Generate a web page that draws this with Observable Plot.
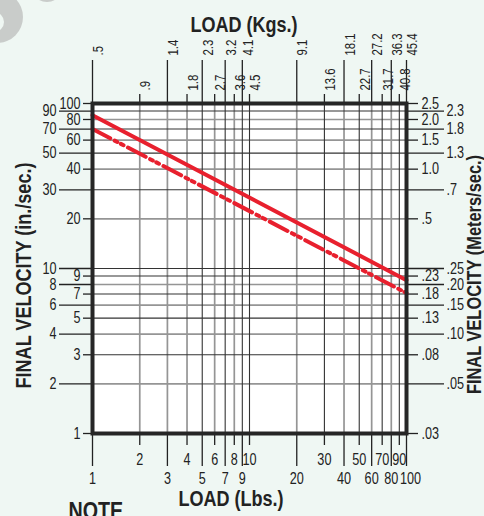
<!DOCTYPE html>
<html><head><meta charset="utf-8">
<script src="https://cdn.jsdelivr.net/npm/d3@7"></script>
<script src="https://cdn.jsdelivr.net/npm/@observablehq/plot@0.6"></script>
<style>
html,body{margin:0;padding:0;background:#eff7f3;overflow:hidden}
#wrap{position:relative;width:484px;height:516px;overflow:hidden}
.blob{position:absolute;border-radius:50%}
</style></head><body><div id="wrap">
<div class="blob" style="left:-29px;top:-9px;width:52px;height:52px;background:#c9ccca"></div>
<div class="blob" style="left:-16px;top:12px;width:20px;height:20px;background:#eff7f3"></div>
<div class="blob" style="left:31px;top:-30px;width:32px;height:32px;background:#c9ccca"></div>
<div id="chart" style="position:absolute;left:0;top:0"></div>
</div>
<script>
// ---- data ----
const loadLbs = [1,2,3,4,5,6,7,8,9,10,20,30,40,50,60,70,80,90,100];
const loadKgLabels = [".5",".9","1.4","1.8","2.3","2.7","3.2","3.6","4.1","4.5","9.1","13.6","18.1","22.7","27.2","31.7","36.3","40.8","45.4"];
const velInSec = [1,2,3,4,5,6,7,8,9,10,20,30,40,50,60,70,80,90,100];
const velMSecLabels = [".03",".05",".08",".10",".13",".15",".18",".20",".23",".25",".5",".7","1.0","1.3","1.5","1.8","2.0","2.3","2.5"];
const lineLoads = [1, 100];
const solidVel = [85, 8.5];
const dashVel = [70, 7.1];

// ---- build ----
const F = '"Liberation Sans",Arial,sans-serif';
const kg = new Map(loadLbs.map((d,i)=>[d, loadKgLabels[i]]));
const ms = new Map(velInSec.map((d,i)=>[d, velMSecLabels[i]]));
const xFar = loadLbs.filter((d,i)=>i%2===0), xNear = loadLbs.filter((d,i)=>i%2===1);
const yNear = velInSec.filter((d,i)=>i%2===0), yFar = velInSec.filter((d,i)=>i%2===1);
const xFarLast = xFar.slice(-1), xFarRest = xFar.slice(0, -1);
const mant = d => Math.round(d / Math.pow(10, Math.floor(Math.log10(d) + 1e-9)));
const darkY = d => mant(d) % 2 === 1;
const darkX = d => mant(d) % 2 === 1 && d > 3;
const solid = lineLoads.map((l,i)=>({load:l, vel:solidVel[i]}));
const dashed = lineLoads.map((l,i)=>({load:l, vel:dashVel[i]}));
const red = "#e8202e";
const ink = "#222";
const blank = () => "";
const T = {fontSize: 16, className: "tk"};

const chart = Plot.plot({
  width: 484, height: 516,
  marginLeft: 92, marginRight: 78, marginTop: 103, marginBottom: 83,
  x: {type: "log", domain: [1, 100], label: null},
  y: {type: "log", domain: [1, 100], label: null},
  style: {background: "transparent", fontFamily: F, fontSize: "16px", color: ink},
  marks: [
    Plot.frame({fill: "white"}),
    Plot.gridX(loadLbs.filter(d=>!darkX(d)), {stroke: "#959595", strokeOpacity: 1, strokeWidth: 1.7}),
    Plot.gridY(velInSec.filter(d=>!darkY(d)), {stroke: "#959595", strokeOpacity: 1, strokeWidth: 1.7}),
    Plot.gridX(loadLbs.filter(darkX), {stroke: "#333", strokeOpacity: 1, strokeWidth: 1.1}),
    Plot.gridY(velInSec.filter(darkY), {stroke: "#333", strokeOpacity: 1, strokeWidth: 1.1}),
    // tick lines
    Plot.axisX(xNear, {anchor: "bottom", tickSize: 12, tickFormat: blank, label: null, strokeWidth: 1.3}),
    Plot.axisX(xFar, {anchor: "bottom", tickSize: 33, tickFormat: blank, label: null, strokeWidth: 1.3}),
    Plot.axisX(xNear, {anchor: "top", tickSize: 10, tickFormat: blank, label: null, strokeWidth: 1.3}),
    Plot.axisX(xFar, {anchor: "top", tickSize: 44, tickFormat: blank, label: null, strokeWidth: 1.3}),
    Plot.axisY(yNear, {anchor: "left", tickSize: 9, tickFormat: blank, label: null, strokeWidth: 1.3}),
    Plot.axisY(yFar, {anchor: "left", tickSize: 33, tickFormat: blank, label: null, strokeWidth: 1.3}),
    Plot.axisY(yNear, {anchor: "right", tickSize: 11, tickFormat: blank, label: null, strokeWidth: 1.3}),
    Plot.axisY(yFar, {anchor: "right", tickSize: 37, tickFormat: blank, label: null, strokeWidth: 1.3}),
    // tick labels
    Plot.text(xNear, {...T, x: d=>d, frameAnchor: "bottom", text: d=>String(d), lineAnchor: "top", dy: 20}),
    Plot.text(xFarRest, {...T, x: d=>d, frameAnchor: "bottom", text: d=>String(d), lineAnchor: "top", dy: 39}),
    Plot.text(xFarLast, {...T, x: d=>d, frameAnchor: "bottom", text: d=>String(d), lineAnchor: "top", dy: 39, dx: 4}),
    Plot.text(xNear, {x: d=>d, frameAnchor: "top", text: d=>kg.get(d), rotate: -90, textAnchor: "start", dy: -13, fontSize: 15, className: "tp"}),
    Plot.text(xFar, {x: d=>d, frameAnchor: "top", text: d=>kg.get(d), rotate: -90, textAnchor: "start", dy: -48, fontSize: 15, className: "tp"}),
    Plot.text(yNear, {...T, y: d=>d, frameAnchor: "left", text: d=>String(d), textAnchor: "end", dx: -12}),
    Plot.text(yFar, {...T, y: d=>d, frameAnchor: "left", text: d=>String(d), textAnchor: "end", dx: -36}),
    Plot.text(yNear, {...T, y: d=>d, frameAnchor: "right", text: d=>ms.get(d), textAnchor: "start", dx: 15}),
    Plot.text(yFar, {...T, y: d=>d, frameAnchor: "right", text: d=>ms.get(d), textAnchor: "start", dx: 40}),
    // curves
    Plot.line(solid, {x: "load", y: "vel", stroke: red, strokeWidth: 4}),
    Plot.line(dashed, {x: "load", y: "vel", stroke: red, strokeWidth: 4, strokeDasharray: "20,5,3,4,3,5"}),
    Plot.frame({stroke: "#262626", strokeWidth: 4}),
    // titles
    Plot.text(["LOAD (Kgs.)"], {frameAnchor: "top-left", dx: 151.5, dy: -87, fontSize: 22, fontWeight: "bold", textAnchor: "middle", className: "tt"}),
    Plot.text(["LOAD (Lbs.)"], {frameAnchor: "bottom-left", dx: 138.5, dy: 72, fontSize: 22, fontWeight: "bold", textAnchor: "middle", className: "tt"}),
    Plot.text(["NOTE"], {frameAnchor: "bottom-left", dx: -24, dy: 85, fontSize: 24, fontWeight: "bold", textAnchor: "start", className: "tt"}),
    Plot.text(["FINAL VELOCITY (in./sec.)"], {frameAnchor: "left", dx: -69, dy: 7, rotate: -90, fontSize: 22, fontWeight: "bold", textAnchor: "middle", className: "tt"}),
    Plot.text(["FINAL VELOCITY (Meters/sec.)"], {frameAnchor: "right", dx: 68.5, dy: 6, rotate: -90, fontSize: 20, fontWeight: "bold", textAnchor: "middle", className: "tt"})
  ]
});
document.getElementById("chart").appendChild(chart);
// condensed lettering, as in the reference
const squeeze = {tk: 0.79, tp: 0.76, tt: 0.82};
for (const [cls, k] of Object.entries(squeeze)) {
  chart.querySelectorAll(`g.${cls} text`).forEach(t => {
    const L = t.getComputedTextLength();
    if (L > 0) {
      t.setAttribute("textLength", (L * k).toFixed(1));
      t.setAttribute("lengthAdjust", "spacingAndGlyphs");
    }
  });
}
</script>
</body></html>
